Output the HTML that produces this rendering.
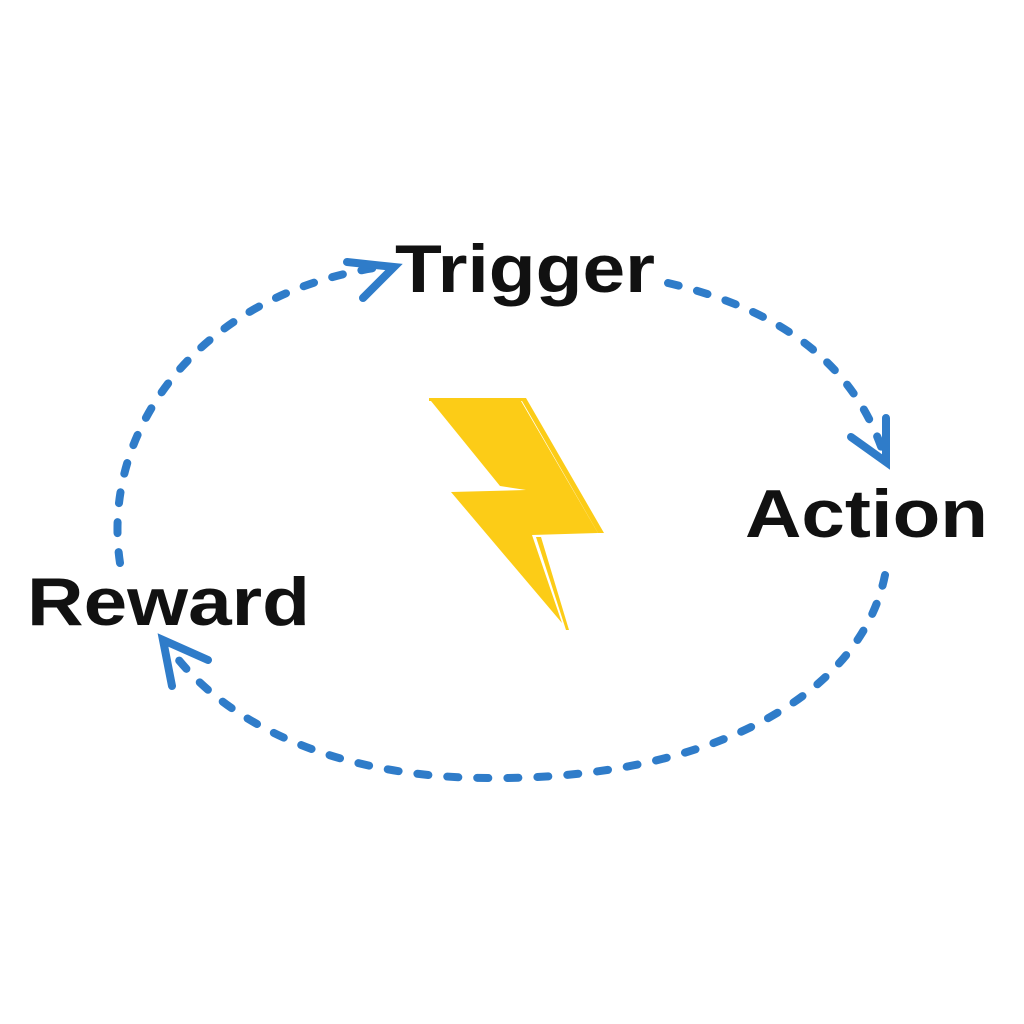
<!DOCTYPE html>
<html><head><meta charset="utf-8"><style>html,body{margin:0;padding:0;background:#fff}svg{display:block}</style></head>
<body>
<svg width="1024" height="1024" viewBox="0 0 1024 1024" xmlns="http://www.w3.org/2000/svg">
<rect width="1024" height="1024" fill="#fff"/>
<g fill="none" stroke="#2f7cc9" stroke-width="8" stroke-linecap="round">
<path d="M120 563 C100 430 200 290 388 266" stroke-dasharray="11 19"/>
<path d="M668 283 C760 305 850 350 884 455" stroke-dasharray="11 19"/>
<path d="M885 575 C860 700 700 780 490 778 C330 778 220 720 168 646" stroke-dasharray="11 19"/>
<path d="M347 262 L394 267 L363 298"/>
<path d="M851 437 L886 462 L886 418"/>
<path d="M208 660 L163 640 L172 686"/>
</g>
<polygon points="429,398 526,398 604,533 598,533 522,401 429,401" fill="#fccc17"/>
<polygon points="431,401 521,401 598,533 532,535 562,623 451,492 526,490 500,486" fill="#fccc17"/>
<polygon points="536,537 541,537 569,630 566,630" fill="#fccc17"/>
<g font-family="'Liberation Sans', sans-serif" font-weight="bold" font-size="68" fill="#111">
<text x="395" y="292" textLength="260" lengthAdjust="spacingAndGlyphs">Trigger</text>
<text x="745" y="537" textLength="243" lengthAdjust="spacingAndGlyphs">Action</text>
<text x="27" y="625" textLength="283" lengthAdjust="spacingAndGlyphs">Reward</text>
</g>
</svg>
</body></html>
